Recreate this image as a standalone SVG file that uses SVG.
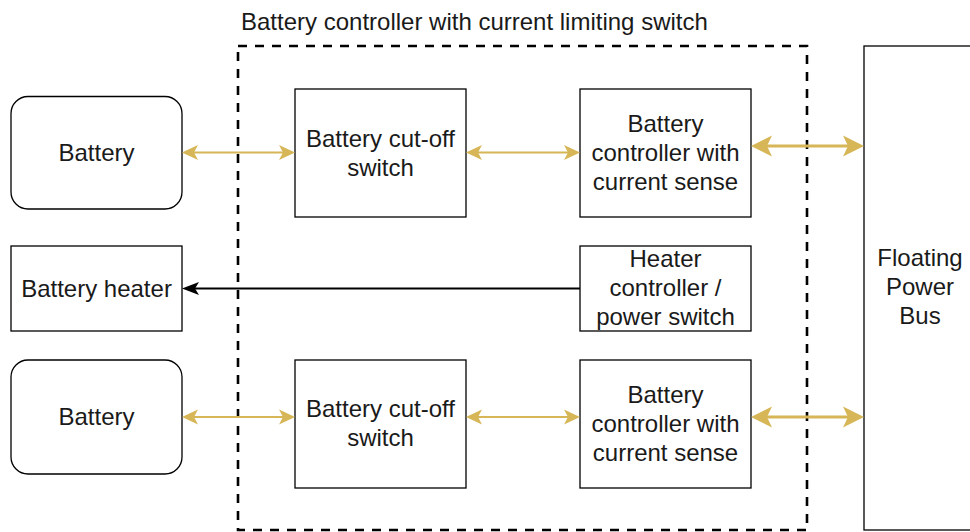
<svg xmlns="http://www.w3.org/2000/svg" width="970" height="532" viewBox="0 0 970 532">
  <style>
    .box { fill: #ffffff; stroke: #000000; stroke-width: 1.3; }
    .lbl { font-family: "Liberation Sans", Arial, sans-serif; font-size: 24px; fill: #1a1a1a; text-anchor: middle; }
    .gold { stroke: #d6b656; stroke-width: 2.2; fill: none; }
    .goldw { stroke: #d6b656; stroke-width: 3.2; fill: none; }
    .blk { stroke: #000000; stroke-width: 2.2; fill: none; }
  </style>
  <defs>
    <marker id="ag" viewBox="-17 -8 17 16" refX="-5" refY="0" markerWidth="17" markerHeight="16" orient="auto-start-reverse" markerUnits="userSpaceOnUse">
      <path d="M0,0 L-16,-7.5 L-12,0 L-16,7.5 Z" fill="#d6b656"/>
    </marker>
    <marker id="agw" viewBox="-22 -11 22 22" refX="-6" refY="0" markerWidth="22" markerHeight="22" orient="auto-start-reverse" markerUnits="userSpaceOnUse">
      <path d="M0,0 L-21,-10.5 L-16,0 L-21,10.5 Z" fill="#d6b656"/>
    </marker>
    <marker id="ab" viewBox="-18 -7 18 14" refX="-5" refY="0" markerWidth="18" markerHeight="14" orient="auto" markerUnits="userSpaceOnUse">
      <path d="M0,0 L-17,-6.5 L-13,0 L-17,6.5 Z" fill="#000000"/>
    </marker>
  </defs>
  <rect width="970" height="532" fill="#ffffff"/>

  <g id="container">
    <rect x="238" y="46" width="569" height="484" fill="none" stroke="#000000" stroke-width="2.6" stroke-dasharray="9 8"/>
    <text x="241" y="30" class="lbl" style="text-anchor:start">Battery controller with current limiting switch</text>
  </g>

  <g id="battery1">
    <rect class="box" x="11" y="96.5" width="171" height="112.5" rx="17"/>
    <text class="lbl" x="96.5" y="161">Battery</text>
  </g>
  <g id="battery-heater">
    <rect class="box" x="11" y="246" width="171" height="85"/>
    <text class="lbl" x="96.5" y="296.5">Battery heater</text>
  </g>
  <g id="battery2">
    <rect class="box" x="11" y="360" width="171" height="114" rx="17"/>
    <text class="lbl" x="96.5" y="425">Battery</text>
  </g>

  <g id="cutoff1">
    <rect class="box" x="295" y="89" width="171" height="128"/>
    <text class="lbl" x="380.5" y="146.5">Battery cut-off</text>
    <text class="lbl" x="380.5" y="175.5">switch</text>
  </g>
  <g id="controller1">
    <rect class="box" x="580" y="89" width="171" height="128"/>
    <text class="lbl" x="665.5" y="132">Battery</text>
    <text class="lbl" x="665.5" y="161">controller with</text>
    <text class="lbl" x="665.5" y="190">current sense</text>
  </g>
  <g id="heater-controller">
    <rect class="box" x="580" y="246" width="171" height="85"/>
    <text class="lbl" x="665.5" y="267">Heater</text>
    <text class="lbl" x="665.5" y="296">controller /</text>
    <text class="lbl" x="665.5" y="325">power switch</text>
  </g>
  <g id="cutoff2">
    <rect class="box" x="295" y="360" width="171" height="128"/>
    <text class="lbl" x="380.5" y="417">Battery cut-off</text>
    <text class="lbl" x="380.5" y="446">switch</text>
  </g>
  <g id="controller2">
    <rect class="box" x="580" y="360" width="171" height="128"/>
    <text class="lbl" x="665.5" y="403">Battery</text>
    <text class="lbl" x="665.5" y="432">controller with</text>
    <text class="lbl" x="665.5" y="461">current sense</text>
  </g>
  <g id="power-bus">
    <rect class="box" x="864" y="46" width="114" height="484"/>
    <text class="lbl" x="920" y="266">Floating</text>
    <text class="lbl" x="920" y="295">Power</text>
    <text class="lbl" x="920" y="324">Bus</text>
  </g>

  <g id="connectors">
    <line class="gold" x1="187" y1="152.5" x2="290" y2="152.5" marker-start="url(#ag)" marker-end="url(#ag)"/>
    <line class="gold" x1="471" y1="152.5" x2="575" y2="152.5" marker-start="url(#ag)" marker-end="url(#ag)"/>
    <line class="goldw" x1="757" y1="146" x2="858" y2="146" marker-start="url(#agw)" marker-end="url(#agw)"/>
    <line class="blk" x1="580" y1="288.5" x2="187" y2="288.5" marker-end="url(#ab)"/>
    <line class="gold" x1="187" y1="417" x2="290" y2="417" marker-start="url(#ag)" marker-end="url(#ag)"/>
    <line class="gold" x1="471" y1="417" x2="575" y2="417" marker-start="url(#ag)" marker-end="url(#ag)"/>
    <line class="goldw" x1="757" y1="417" x2="858" y2="417" marker-start="url(#agw)" marker-end="url(#agw)"/>
  </g>
</svg>
